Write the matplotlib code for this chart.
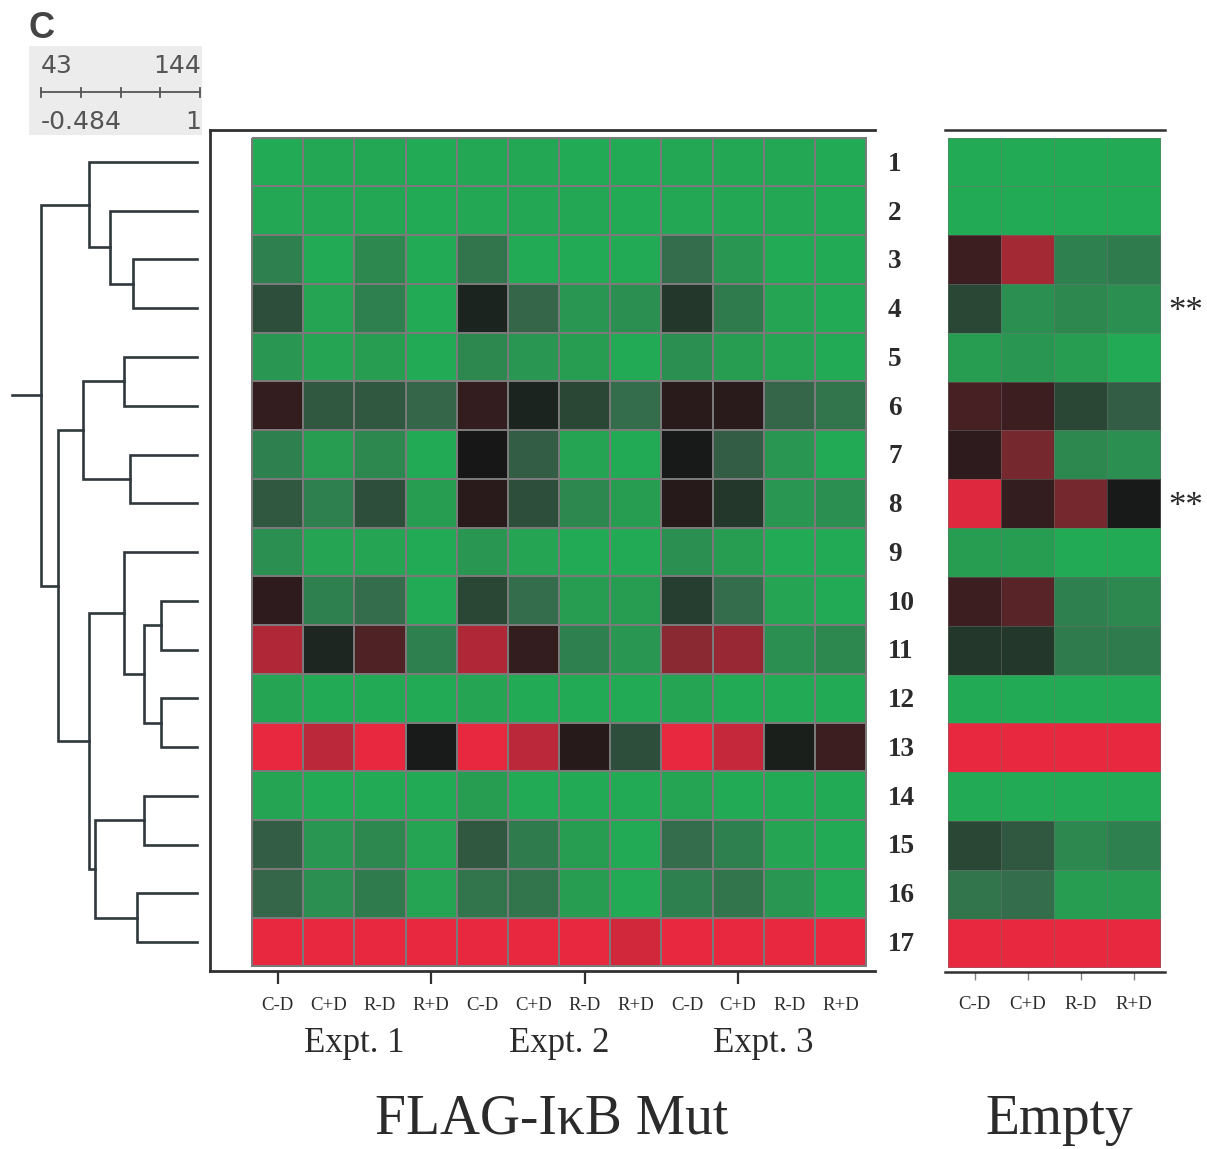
import matplotlib
matplotlib.use("Agg")
import matplotlib.pyplot as plt
import numpy as np
from matplotlib.colors import LinearSegmentedColormap

# --- data (-1 = full green, 0 = black, +1 = full red) ---
conditions = ["C-D", "C+D", "R-D", "R+D"]
experiments = ["Expt. 1", "Expt. 2", "Expt. 3"]
genes = [str(i) for i in range(1, 18)]
starred = [4, 8]

flag_mut = np.array([
    [-1.00, -0.97, -0.97, -1.00, -0.97, -0.97, -1.00, -1.00, -0.97, -0.97, -0.97, -1.00],
    [-0.97, -0.97, -0.97, -1.00, -0.97, -0.97, -0.97, -1.00, -0.97, -0.97, -0.97, -1.00],
    [-0.70, -1.00, -0.75, -1.00, -0.60, -1.00, -1.00, -1.00, -0.55, -0.85, -1.00, -1.00],
    [-0.35, -0.95, -0.70, -1.00, -0.08, -0.50, -0.85, -0.80, -0.20, -0.65, -0.95, -1.00],
    [-0.85, -0.95, -0.90, -1.00, -0.75, -0.85, -0.90, -1.00, -0.80, -0.90, -0.95, -1.00],
    [ 0.15, -0.40, -0.40, -0.50,  0.15, -0.08, -0.30, -0.55,  0.10,  0.10, -0.50, -0.60],
    [-0.70, -0.90, -0.75, -1.00,  0.00, -0.45, -0.95, -1.00, -0.02, -0.45, -0.85, -1.00],
    [-0.40, -0.70, -0.35, -0.90,  0.10, -0.35, -0.75, -0.90,  0.08, -0.20, -0.85, -0.80],
    [-0.80, -0.95, -0.95, -1.00, -0.85, -0.95, -1.00, -1.00, -0.80, -0.90, -1.00, -1.00],
    [ 0.12, -0.70, -0.55, -1.00, -0.30, -0.55, -0.90, -0.90, -0.25, -0.55, -0.95, -1.00],
    [ 0.75, -0.10,  0.30, -0.70,  0.75,  0.15, -0.70, -0.85,  0.60,  0.65, -0.80, -0.75],
    [-0.95, -1.00, -1.00, -1.00, -0.95, -1.00, -1.00, -1.00, -0.95, -1.00, -1.00, -1.00],
    [ 1.00,  0.80,  1.00, -0.03,  1.00,  0.80,  0.08, -0.35,  1.00,  0.85, -0.05,  0.20],
    [-0.95, -1.00, -1.00, -1.00, -0.90, -1.00, -1.00, -1.00, -0.95, -1.00, -1.00, -1.00],
    [-0.45, -0.85, -0.75, -0.95, -0.40, -0.65, -0.90, -1.00, -0.55, -0.70, -0.95, -1.00],
    [-0.50, -0.80, -0.65, -0.95, -0.60, -0.60, -0.90, -1.00, -0.70, -0.60, -0.85, -1.00],
    [ 1.00,  1.00,  1.00,  1.00,  1.00,  1.00,  1.00,  0.90,  1.00,  1.00,  1.00,  1.00],
])

empty = np.array([
    [-1.00, -1.00, -1.00, -1.00],
    [-1.00, -1.00, -1.00, -1.00],
    [ 0.20,  0.70, -0.70, -0.65],
    [-0.30, -0.80, -0.75, -0.80],
    [-0.90, -0.85, -0.90, -1.00],
    [ 0.25,  0.20, -0.30, -0.45],
    [ 0.12,  0.50, -0.75, -0.80],
    [ 0.95,  0.15,  0.50, -0.02],
    [-0.90, -0.90, -1.00, -1.00],
    [ 0.20,  0.35, -0.70, -0.75],
    [-0.20, -0.20, -0.65, -0.65],
    [-1.00, -1.00, -1.00, -1.00],
    [ 1.00,  1.00,  1.00,  1.00],
    [-1.00, -1.00, -1.00, -1.00],
    [-0.30, -0.40, -0.75, -0.70],
    [-0.60, -0.55, -0.90, -0.90],
    [ 1.00,  1.00,  1.00,  1.00],
])

# tree: (left, right, merge distance); leaves 0..16, new clusters from 17
merges = [
    (2, 3, 64), (1, 17, 87), (0, 18, 108),
    (4, 5, 73), (6, 7, 67), (20, 21, 114),
    (9, 10, 36), (11, 12, 36), (23, 24, 53), (8, 25, 73),
    (13, 14, 53), (15, 16, 60), (27, 28, 102),
    (26, 29, 108), (22, 30, 139), (19, 31, 156),
]
root_stub = 29

scale_top = ["43", "144"]
scale_bottom = ["-0.484", "1"]

W, H = 1207, 1149
def box(l, t, r, b):
    return [l / W, 1 - b / H, (r - l) / W, (b - t) / H]

cmap = LinearSegmentedColormap.from_list(
    "gbr", [(0.0, "#23aa54"), (0.25, "#36664a"), (0.5, "#171717"),
            (0.75, "#74292f"), (1.0, "#e8283f")])
serif = "Liberation Serif"
txt = "#2b2b2b"
line_c = "#2f383d"

fig = plt.figure(figsize=(W / 100, H / 100), dpi=100)

ylim = (17.094, -0.156)

# main heatmap
ax = fig.add_axes(box(210, 130, 875, 971))
ax.pcolormesh(np.arange(13), np.arange(18), flag_mut, cmap=cmap, vmin=-1, vmax=1,
              edgecolors="#7a7a7a", linewidth=1.3)
ax.set_xlim(-0.821, 12.175)
ax.set_ylim(*ylim)
ax.spines["right"].set_visible(False)
for s in ["left", "top", "bottom"]:
    ax.spines[s].set_linewidth(2.0)
    ax.spines[s].set_color("#303030")
ax.set_yticks([])
ax.set_xticks([0.5, 3.5, 6.5, 9.5])
ax.set_xticklabels([])
ax.tick_params(axis="x", which="major", length=9, width=1.6, color="#303030")

xt = ax.get_xaxis_transform()
for j, c in enumerate(conditions * 3):
    ax.text(j + 0.5, -0.041, c, transform=xt, ha="center", va="center",
            fontfamily=serif, fontsize=13.5, color=txt)
for i, e in enumerate(experiments):
    ax.text(2 + 4 * i, -0.086, e, transform=xt, ha="center",
            va="center", fontfamily=serif, fontsize=25, color=txt)
ax.text(5.85, -0.176, "FLAG-I\u03baB Mut", transform=xt,
        ha="center", va="center", fontfamily=serif, fontsize=40, color=txt)

for i, g in enumerate(genes):
    ax.text(12.43, i + 0.55, g, ha="left", va="center", fontfamily=serif,
            fontweight="bold", fontsize=19.5, color=txt, clip_on=False)

# empty vector heatmap
ax2 = fig.add_axes(box(945, 130, 1165, 972))
ax2.pcolormesh(np.arange(5), np.arange(18), empty, cmap=cmap, vmin=-1, vmax=1,
               edgecolors=(0.45, 0.45, 0.45, 0.45), linewidth=0.6)
ax2.set_xlim(-0.057, 4.094)
ax2.set_ylim(*ylim)
ax2.spines["left"].set_visible(False)
ax2.spines["right"].set_visible(False)
for s in ["top", "bottom"]:
    ax2.spines[s].set_linewidth(1.8)
    ax2.spines[s].set_color("#303030")
ax2.set_yticks([])
ax2.set_xticks(np.arange(4) + 0.5)
ax2.set_xticklabels(conditions, fontfamily=serif, fontsize=13.5, color=txt)
ax2.tick_params(axis="x", length=6, width=1, color="#808080", pad=11)
ax2.text(2.1, -0.176, "Empty", transform=ax2.get_xaxis_transform(),
         ha="center", va="center", fontfamily=serif, fontsize=40, color=txt)
for r in starred:
    ax2.text(4.15, r - 0.42, "**", ha="left", va="center", fontfamily=serif,
             fontsize=25, color=txt, clip_on=False)

# dendrogram
axd = fig.add_axes(box(0, 130, 210, 971))
pos = {i: (i + 0.5, 0.0) for i in range(17)}
for k, (a, b, h) in enumerate(merges):
    ya, ha = pos[a]
    yb, hb = pos[b]
    axd.plot([ha, h, h, hb], [ya, ya, yb, yb], color=line_c, lw=1.9,
             solid_joinstyle="miter")
    pos[17 + k] = ((ya + yb) / 2, h)
yr, hr = pos[17 + len(merges) - 1]
axd.plot([hr, hr + root_stub], [yr, yr], color=line_c, lw=1.9)
axd.set_xlim(197, -13)
axd.set_ylim(*ylim)
axd.axis("off")

# colour scale box
axs = fig.add_axes(box(29, 46, 202, 135))
axs.set_facecolor("#ececec")
axs.set_xlim(29, 202)
axs.set_ylim(135, 46)
for s in axs.spines.values():
    s.set_visible(False)
axs.set_xticks([])
axs.set_yticks([])
sx = np.linspace(41, 200, 5)
axs.plot([sx[0], sx[-1]], [92, 92], color="#555555", lw=1.3)
for x in sx:
    axs.plot([x, x], [88, 97], color="#555555", lw=1.3)
axs.text(41, 66, scale_top[0], ha="left", va="center", fontsize=18, color="#555555")
axs.text(201, 66, scale_top[1], ha="right", va="center", fontsize=18, color="#555555")
axs.text(41, 122, scale_bottom[0], ha="left", va="center", fontsize=18, color="#555555")
axs.text(201, 122, scale_bottom[1], ha="right", va="center", fontsize=18, color="#555555")

fig.text(28 / W, 1 - 28 / H, "C", ha="left", va="center", fontsize=26,
         fontweight="bold", color="#444444", fontfamily="Liberation Sans")

fig.savefig("out.png", dpi=100, facecolor="white")
